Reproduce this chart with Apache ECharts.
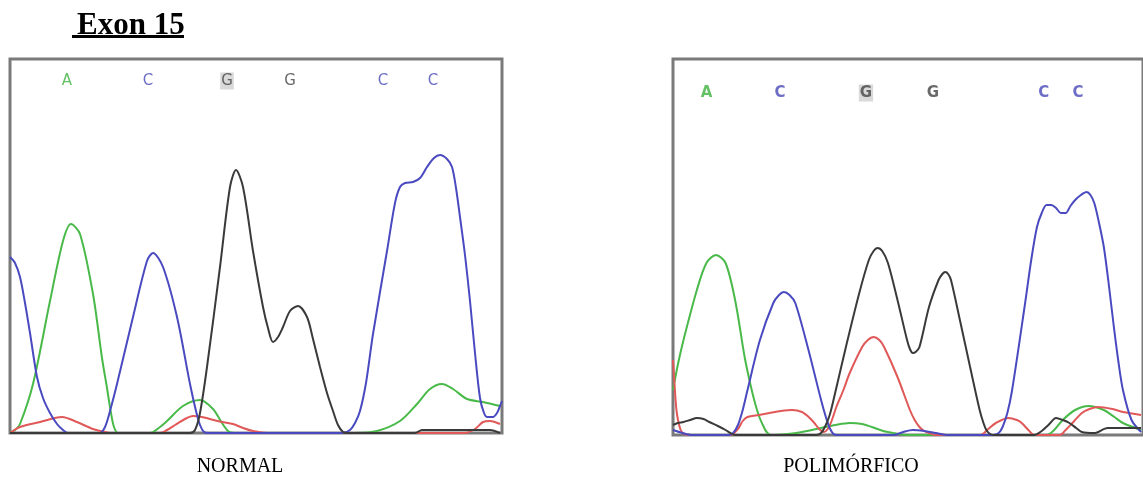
<!DOCTYPE html>
<html>
<head>
<meta charset="utf-8">
<script src="https://cdn.jsdelivr.net/npm/echarts@6/dist/echarts.min.js"></script>
<style>
html,body{margin:0;padding:0;background:#fff;}
#chart{width:1143px;height:480px;}
</style>
</head>
<body>
<div id="chart"></div>
<script>
// ---- NORMAL trace (scan position, signal) ----
var normalGreen = [[0,0],[5,3],[10,9],[23,49],[40,132],[53,192],[61,209],[70,199],[83,139],[92,75],[97,45],[101,20],[104,6],[108,0],[140,0],[150,6],[157,12],[173,27],[190,33],[203,24],[212,10],[218,2],[224,0],[345,0],[367,2],[390,12],[407,29],[420,44],[432,49],[443,44],[457,34],[473,31],[490,27]];
var normalBlue = [[0,176],[5,170],[10,156],[15,130],[20,100],[27,56],[33,35],[40,20],[47,9],[53,3],[58,0],[90,0],[95,6],[100,22],[107,49],[123,116],[137,172],[143,180],[153,166],[167,116],[180,49],[186,22],[190,8],[194,1],[198,0],[333,0],[340,3],[345,10],[350,22],[356,50],[363,99],[377,182],[385,230],[390,246],[395,250],[403,251],[410,255],[417,266],[424,275],[430,278],[437,274],[442,266],[446,245],[450,216],[455,178],[460,132],[465,80],[470,35],[474,20],[477,16],[483,16],[487,20],[490,27],[492,32]];
var normalBlack = [[0,0],[180,0],[185,3],[190,20],[197,66],[210,166],[220,246],[226,263],[233,246],[243,182],[253,126],[258,105],[263,91],[268,96],[273,106],[280,122],[288,127],[297,116],[303,94],[310,66],[317,40],[323,22],[328,8],[333,1],[338,0],[405,0],[412,3],[480,3],[490,0]];
var normalRed = [[0,0],[10,6],[30,11],[52,16],[67,11],[83,4],[95,1],[100,0],[150,0],[157,3],[165,8],[175,14],[183,17],[192,16],[200,14],[212,11],[223,9],[233,5],[243,2],[257,0],[455,0],[465,4],[473,11],[480,12],[490,9]];
var normalBases = ['A','C','G','G','C','C'];
var normalBasePos = [57,138,217,280,373,423];

// ---- POLIMÓRFICO trace ----
var polyGreen = [[0,45],[5,70],[11,95],[25,145],[35,172],[45,180],[55,172],[65,135],[75,78],[80,55],[85,35],[90,19],[95,8],[98,3],[102,0],[120,1],[135,3],[155,7],[170,10],[185,12],[198,11],[208,8],[220,4],[231,2],[245,0],[391,0],[398,4],[408,15],[421,25],[435,29],[451,25],[462,18],[471,12],[490,5]];
var polyBlue = [[0,5],[10,2],[20,0],[58,0],[63,2],[68,10],[73,25],[78,45],[91,95],[105,132],[111,140],[116,143],[122,140],[128,132],[141,88],[155,35],[160,18],[164,7],[168,1],[172,0],[231,0],[241,3],[251,5],[263,4],[275,2],[288,0],[335,0],[341,2],[345,8],[350,22],[355,45],[368,128],[375,175],[381,208],[386,222],[391,230],[396,230],[401,227],[406,222],[411,222],[416,229],[421,235],[427,240],[433,243],[437,240],[441,232],[446,212],[451,188],[456,152],[461,112],[466,75],[471,45],[480,15],[490,3]];
var polyBlack = [[0,10],[5,12],[11,13],[18,15],[25,17],[32,16],[38,13],[47,9],[55,5],[60,2],[65,0],[150,0],[155,2],[160,10],[164,20],[168,35],[181,88],[195,142],[205,175],[210,184],[214,187],[219,184],[225,172],[235,135],[245,95],[248,86],[251,82],[254,83],[258,88],[268,128],[278,155],[282,161],[285,163],[288,161],[291,155],[301,112],[311,68],[321,25],[325,12],[328,5],[332,1],[336,0],[378,0],[386,4],[393,10],[401,17],[408,15],[415,12],[422,7],[428,3],[441,2],[455,7],[471,7],[490,7]];
var polyRed = [[0,75],[2,45],[4,22],[8,5],[12,1],[18,0],[60,0],[68,6],[73,14],[78,18],[90,20],[101,22],[113,24],[125,25],[135,23],[142,18],[148,12],[153,6],[158,3],[162,6],[166,14],[171,28],[178,44],[185,62],[198,88],[204,95],[210,98],[216,95],[221,88],[235,58],[248,25],[253,15],[258,8],[263,4],[268,2],[275,0],[322,0],[330,6],[338,12],[351,17],[360,15],[365,12],[372,5],[378,0],[405,0],[411,5],[420,14],[428,22],[436,26],[445,28],[460,26],[471,23],[490,20]];
var polyBases = ['A','C','G','G','C','C'];
var polyBasePos = [35,112,202,272,388,424];

var baseColor = {A:'#3fb13f', C:'#4848b8', G:'#444444'};
var traceColor = {green:'#49b949', blue:'#4a4ac0', black:'#3a3a3a', red:'#e05858'};

function traceSeries(data, color, idx){
  return {type:'line', xAxisIndex:idx, yAxisIndex:idx, data:data, smooth:0.3, symbol:'none',
    clip:true, lineStyle:{color:color, width:2}, z:2};
}
function baseSeries(bases, pos, yv, idx, bold, highlightIndex){
  return {type:'scatter', xAxisIndex:idx, yAxisIndex:idx, symbolSize:0, z:5,
    data: bases.map(function(b,i){
      var lbl = {show:true, position:'inside', formatter:b, color:baseColor[b],
        fontFamily:'DejaVu Sans', fontSize:15, fontWeight: bold?'bold':'normal'};
      if(i===highlightIndex){ lbl.backgroundColor='#cfcfcf'; lbl.padding=[1,1]; }
      return {value:[pos[i], yv], label:lbl};
    })};
}

var chart = echarts.init(document.getElementById('chart'), null, {renderer:'canvas'});
chart.setOption({
  backgroundColor:'#ffffff',
  animation:false,
  title:{text:'Exon 15', left:72, top:5,
    textStyle:{fontFamily:'Liberation Serif', fontWeight:'bold', fontSize:31, color:'#000'}},
  graphic:[
    {type:'rect', shape:{x:72, y:35, width:112, height:3}, style:{fill:'#000'}},
    {type:'text', style:{x:240, y:467, text:'NORMAL', align:'center', verticalAlign:'middle',
      font:'20px "Liberation Serif"', fill:'#000'}},
    {type:'text', style:{x:851, y:467, text:'POLIMÓRFICO', align:'center', verticalAlign:'middle',
      font:'20px "Liberation Serif"', fill:'#000'}}
  ],
  grid:[
    {left:10, top:59, width:492, height:374, show:true, borderColor:'#7a7a7a', borderWidth:3, backgroundColor:'#fff'},
    {left:673, top:59, width:492, height:376, show:true, borderColor:'#7a7a7a', borderWidth:3, backgroundColor:'#fff'}
  ],
  xAxis:[
    {type:'value', gridIndex:0, min:0, max:492, show:false},
    {type:'value', gridIndex:1, min:0, max:492, show:false}
  ],
  yAxis:[
    {type:'value', gridIndex:0, min:0, max:374, show:false},
    {type:'value', gridIndex:1, min:0, max:376, show:false}
  ],
  series:[
    traceSeries(normalGreen, traceColor.green, 0),
    traceSeries(normalRed, traceColor.red, 0),
    traceSeries(normalBlue, traceColor.blue, 0),
    traceSeries(normalBlack, traceColor.black, 0),
    baseSeries(normalBases, normalBasePos, 352, 0, false, 2),
    traceSeries(polyGreen, traceColor.green, 1),
    traceSeries(polyRed, traceColor.red, 1),
    traceSeries(polyBlue, traceColor.blue, 1),
    traceSeries(polyBlack, traceColor.black, 1),
    baseSeries(polyBases, polyBasePos, 342, 1, true, 2)
  ]
});
</script>
</body>
</html>
